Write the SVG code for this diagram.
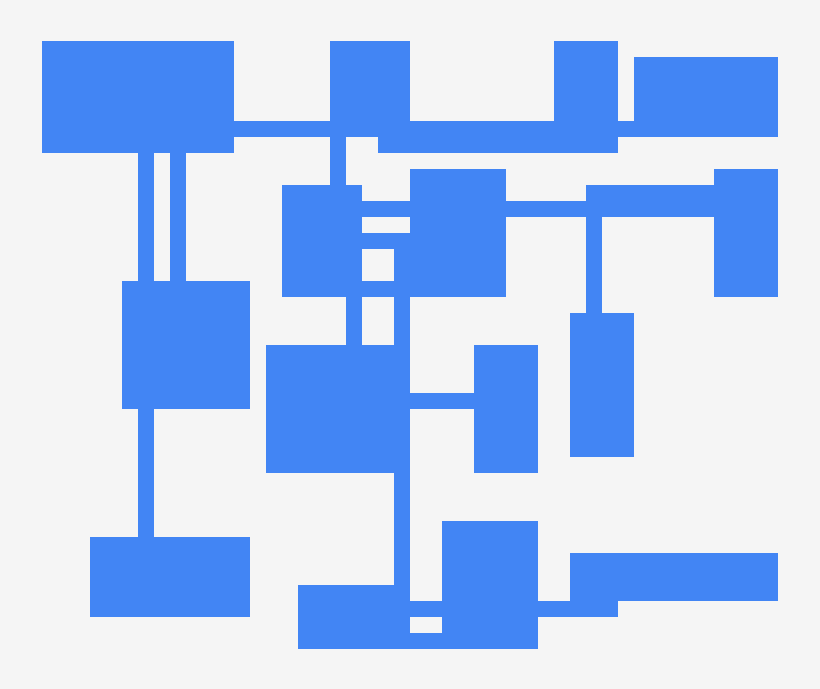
<svg xmlns="http://www.w3.org/2000/svg" width="820" height="689" viewBox="0 0 820 689">
<style>
.room{fill:#4285F4}
.cor{fill:#4285F4}
</style>
<rect width="820" height="689" fill="#F5F5F5"/>
<g id="connectors">
<rect class="cor" x="234" y="121" width="96" height="16"/>
<rect class="cor" x="618" y="121" width="16" height="16"/>
<rect class="cor" x="138" y="153" width="16" height="128"/>
<rect class="cor" x="170" y="153" width="16" height="128"/>
<rect class="cor" x="330" y="137" width="16" height="48"/>
<rect class="cor" x="362" y="201" width="48" height="16"/>
<rect class="cor" x="362" y="233" width="48" height="16"/>
<rect class="cor" x="362" y="281" width="48" height="16"/>
<rect class="cor" x="394" y="233" width="16" height="416"/>
<rect class="cor" x="346" y="297" width="16" height="48"/>
<rect class="cor" x="410" y="393" width="64" height="16"/>
<rect class="cor" x="506" y="201" width="80" height="16"/>
<rect class="cor" x="586" y="217" width="16" height="96"/>
<rect class="cor" x="138" y="409" width="16" height="128"/>
<rect class="cor" x="410" y="601" width="32" height="16"/>
<rect class="cor" x="394" y="633" width="48" height="16"/>
<rect class="cor" x="538" y="601" width="80" height="16"/>
</g>
<g id="room-a"><rect class="room" x="42" y="41" width="192" height="112"/></g>
<g id="room-b"><rect class="room" x="330" y="41" width="80" height="96"/></g>
<g id="room-p"><rect class="room" x="378" y="121" width="240" height="32"/></g>
<g id="room-c"><rect class="room" x="554" y="41" width="64" height="112"/></g>
<g id="room-d"><rect class="room" x="634" y="57" width="144" height="80"/></g>
<g id="room-e"><rect class="room" x="282" y="185" width="80" height="112"/></g>
<g id="room-f"><rect class="room" x="410" y="169" width="96" height="128"/></g>
<g id="room-q"><rect class="room" x="586" y="185" width="128" height="32"/></g>
<g id="room-i"><rect class="room" x="714" y="169" width="64" height="128"/></g>
<g id="room-j"><rect class="room" x="570" y="313" width="64" height="144"/></g>
<g id="room-k"><rect class="room" x="122" y="281" width="128" height="128"/></g>
<g id="room-g"><rect class="room" x="266" y="345" width="144" height="128"/></g>
<g id="room-h"><rect class="room" x="474" y="345" width="64" height="128"/></g>
<g id="room-l"><rect class="room" x="90" y="537" width="160" height="80"/></g>
<g id="room-m"><rect class="room" x="298" y="585" width="96" height="64"/></g>
<g id="room-n"><rect class="room" x="442" y="521" width="96" height="128"/></g>
<g id="room-o"><rect class="room" x="570" y="553" width="208" height="48"/></g>
</svg>
